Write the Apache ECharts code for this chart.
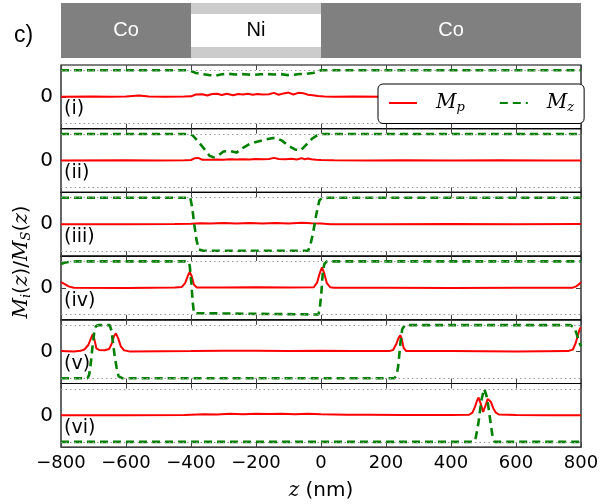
<!DOCTYPE html>
<html>
<head>
<meta charset="utf-8">
<script src="https://cdn.jsdelivr.net/npm/echarts@6/dist/echarts.min.js"></script>
<style>html,body{margin:0;padding:0;background:#fff}#chart{width:603px;height:504px}</style>
</head>
<body>
<div id="chart"></div>
<script>
// layer stack shown above the panels
var layerNames = ['Co', 'Ni', 'Co'];
var layerEdges = [-800, -400, 0, 800];
var panelLabels = ['(i)', '(ii)', '(iii)', '(iv)', '(v)', '(vi)'];
var guideLevels = [1, -1];

// M_p (red) and M_z (green) per panel, [z (nm), value]
var mp1 = [[-800,0],[-700,0.01],[-650,0.0],[-600,0.01],[-560,0.05],[-530,0.01],[-480,0.0],[-420,0.01],[-400,0.02],[-385,0.09],[-365,0.1],[-350,0.05],[-335,0.11],[-320,0.12],[-305,0.07],[-290,0.12],[-270,0.06],[-255,0.11],[-240,0.09],[-225,0.12],[-210,0.08],[-195,0.11],[-180,0.09],[-160,0.1],[-145,0.15],[-130,0.08],[-115,0.13],[-100,0.16],[-85,0.09],[-70,0.15],[-55,0.14],[-40,0.08],[-25,0.06],[-10,0.03],[10,0.01],[40,0.0],[100,0.01],[200,0.0],[300,0.01],[400,0.0],[500,0.01],[600,0.0],[700,0.01],[800,0]];
var mz1 = [[-800,1],[-410,1],[-400,0.97],[-385,0.9],[-365,0.86],[-345,0.82],[-325,0.8],[-305,0.85],[-285,0.87],[-265,0.84],[-245,0.86],[-225,0.84],[-205,0.83],[-185,0.85],[-165,0.86],[-145,0.84],[-125,0.86],[-105,0.82],[-85,0.83],[-65,0.86],[-45,0.87],[-25,0.9],[-10,0.95],[0,1],[800,1]];

var mp2 = [[-800,0],[-600,0.01],[-500,0],[-420,0.01],[-400,0.02],[-388,0.09],[-378,0.1],[-365,0.03],[-340,0.03],[-320,0.04],[-300,0.03],[-280,0.05],[-260,0.04],[-240,0.05],[-220,0.04],[-200,0.06],[-180,0.05],[-160,0.06],[-145,0.1],[-130,0.06],[-110,0.05],[-90,0.07],[-75,0.04],[-60,0.09],[-50,0.05],[-40,0.08],[-30,0.05],[-15,0.03],[0,0.02],[40,0.01],[150,0.0],[250,0.01],[400,0.0],[550,0.01],[700,0.0],[800,0]];
var mz2 = [[-800,1],[-405,1],[-395,0.95],[-380,0.75],[-360,0.45],[-343,0.18],[-330,0.12],[-315,0.2],[-300,0.34],[-280,0.36],[-260,0.3],[-240,0.48],[-220,0.62],[-200,0.7],[-180,0.76],[-160,0.82],[-140,0.86],[-120,0.75],[-100,0.56],[-80,0.42],[-63,0.38],[-45,0.6],[-28,0.82],[-12,0.95],[0,1],[800,1]];

var mp3 = [[-800,0],[-600,0.0],[-450,0.01],[-400,0.02],[-370,0.04],[-340,0.03],[-300,0.05],[-260,0.03],[-220,0.05],[-180,0.03],[-140,0.05],[-100,0.03],[-60,0.06],[-30,0.04],[0,0.03],[30,0.0],[200,0.0],[400,0.01],[600,0.0],[800,0.01]];
var mz3 = [[-800,1],[-402,1],[-396,0.6],[-390,0],[-383,-0.6],[-376,-0.95],[-362,-1],[-40,-1],[-33,-0.8],[-24,-0.3],[-14,0.4],[-5,0.9],[4,1],[800,1]];

var mp4 = [[-800,0.22],[-790,0.15],[-775,0.05],[-760,0.01],[-600,0.0],[-450,0.02],[-428,0.04],[-418,0.18],[-410,0.45],[-404,0.6],[-398,0.45],[-391,0.12],[-382,0.02],[-300,0.02],[-200,0.03],[-100,0.02],[-22,0.03],[-12,0.2],[-4,0.55],[3,0.78],[10,0.55],[18,0.18],[28,0.03],[40,0.01],[200,0.01],[400,0.0],[600,0.01],[775,0.01],[785,0.06],[793,0.13],[800,0.22]];
var mz4 = [[-800,0.9],[-790,0.95],[-770,0.99],[-750,1],[-410,1],[-404,0.85],[-399,0.2],[-395,-0.5],[-391,-0.95],[-385,-1],[-8,-1],[-4,-0.8],[1,-0.2],[5,0.5],[10,0.9],[18,1],[800,1]];

var mp5 = [[-800,0.02],[-760,0.01],[-740,0.03],[-728,0.08],[-716,0.25],[-708,0.5],[-702,0.66],[-697,0.45],[-691,0.12],[-682,0.06],[-665,0.05],[-652,0.1],[-644,0.3],[-637,0.58],[-631,0.69],[-624,0.5],[-616,0.2],[-606,0.05],[-590,0.01],[-400,0.02],[-300,0.03],[-200,0.03],[-100,0.02],[0,0.03],[100,0.02],[210,0.02],[222,0.06],[232,0.3],[238,0.5],[244,0.62],[249,0.45],[254,0.15],[262,0.02],[400,0.02],[600,0.01],[760,0.02],[775,0.08],[783,0.3],[790,0.6],[796,0.85],[800,0.92]];
var mz5 = [[-800,-1],[-718,-1],[-713,-0.85],[-708,-0.4],[-703,0.2],[-698,0.7],[-693,0.95],[-686,1],[-650,1],[-645,0.8],[-640,0.35],[-635,-0.15],[-629,-0.6],[-623,-0.92],[-612,-1],[226,-1],[232,-0.9],[237,-0.6],[241,-0.1],[245,0.4],[250,0.85],[258,1],[767,1],[778,0.92],[786,0.7],[793,0.4],[800,0.2]];

var mp6 = [[-800,0],[-600,0.0],[-420,0.01],[-400,0.02],[-360,0.04],[-320,0.03],[-280,0.06],[-240,0.04],[-200,0.06],[-160,0.05],[-120,0.06],[-80,0.04],[-40,0.06],[0,0.04],[40,0.03],[80,0.02],[150,0.02],[250,0.01],[400,0.01],[455,0.02],[466,0.1],[474,0.33],[480,0.55],[485,0.67],[491,0.45],[499,0.13],[507,0.4],[513,0.62],[517,0.67],[523,0.5],[530,0.27],[538,0.1],[548,0.03],[600,0.01],[700,0.0],[800,0]];
var mz6 = [[-800,-1],[470,-1],[476,-0.85],[484,-0.32],[494,0.6],[502,1],[509,0.75],[515,0.33],[522,-0.3],[528,-0.8],[534,-1],[800,-1]];

var mpAll = [mp1, mp2, mp3, mp4, mp5, mp6];
var mzAll = [mz1, mz2, mz3, mz4, mz5, mz6];

var plotLeft = 61, plotWidth = 520;
var panelTop = 65, panelHeight = 63.7;

var serif = 'DejaVu Serif';
var mathRich = {
    m: { fontFamily: serif, fontStyle: 'italic', fontSize: 20, color: '#000' },
    n: { fontFamily: 'DejaVu Sans', fontSize: 20, color: '#000' },
    s: { fontFamily: serif, fontStyle: 'italic', fontSize: 13, color: '#000', padding: [10, 0, 0, 0] }
};

function minusLabel(v) {
    return v < 0 ? '\u2212' + (-v) : String(v);
}

var chart = echarts.init(document.getElementById('chart'));

var grids = [{ left: plotLeft, width: plotWidth, top: 3, height: 55, show: false }];
var xAxes = [{ gridIndex: 0, type: 'value', min: -800, max: 800, show: false }];
var yAxes = [{ gridIndex: 0, type: 'value', min: 0, max: 1, show: false }];

// layer band (Ni shows a white core between light grey strips)
var bandAreas = [];
for (var i = 0; i < layerNames.length; i++) {
    var isNi = layerNames[i] == 'Ni';
    bandAreas.push([
        { xAxis: layerEdges[i], yAxis: 0, itemStyle: { color: isNi ? '#cccccc' : '#808080', opacity: 1 },
          label: { show: !isNi, position: 'inside', color: '#fff', fontSize: 20, fontFamily: 'Liberation Sans' }, name: layerNames[i] },
        { xAxis: layerEdges[i + 1], yAxis: 1 }
    ]);
    if (isNi) {
        bandAreas.push([
            { xAxis: layerEdges[i], yAxis: 0.2, itemStyle: { color: '#ffffff', opacity: 1 },
              label: { show: true, position: 'inside', color: '#000', fontSize: 20, fontFamily: 'Liberation Sans' }, name: layerNames[i] },
            { xAxis: layerEdges[i + 1], yAxis: 0.8 }
        ]);
    }
}

var series = [{
    type: 'line', xAxisIndex: 0, yAxisIndex: 0, data: [], silent: true,
    markArea: { silent: true, data: bandAreas, label: { formatter: '{b}' } }
}];

var graphics = [
    { type: 'text', left: 14, top: 24, style: { text: 'c)', fontSize: 23, fontFamily: 'Liberation Sans', fill: '#000' } },
    { type: 'text', x: 22, y: 262, rotation: Math.PI / 2,
      style: { text: '{m|M}{s|i}{n|(}{m|z}{n|)/}{m|M}{s|S}{n|(}{m|z}{n|)}', rich: mathRich, align: 'center', verticalAlign: 'middle' } }
];

for (var k = 0; k < 6; k++) {
    var last = k == 5;
    var panelY = panelTop + k * panelHeight;
    var axisIdx = 1 + 2 * k;
    grids.push({ left: plotLeft, width: plotWidth, top: panelY, height: panelHeight, show: true, borderColor: '#000', borderWidth: 1.2 });
    xAxes.push({
        gridIndex: k + 1, type: 'value', min: -800, max: 800, interval: 200, position: 'bottom',
        axisLine: { show: false, onZero: false }, splitLine: { show: false },
        axisTick: { show: true, inside: true, length: 5, lineStyle: { color: '#444' } },
        axisLabel: { show: last, fontSize: 18, fontFamily: 'DejaVu Sans', color: '#000', margin: 7, formatter: minusLabel },
        name: last ? '{m|z}{n| (nm)}' : '', nameLocation: 'middle', nameGap: 34,
        nameTextStyle: { rich: mathRich }
    });
    xAxes.push({
        gridIndex: k + 1, type: 'value', min: -800, max: 800, interval: 200, position: 'top',
        axisLine: { show: false, onZero: false }, splitLine: { show: false }, axisLabel: { show: false },
        axisTick: { show: true, inside: true, length: 5, lineStyle: { color: '#444' } }
    });
    yAxes.push({
        gridIndex: k + 1, type: 'value', min: -1.2, max: 1.2, position: 'left',
        axisLine: { show: false, onZero: false }, splitLine: { show: false },
        axisTick: { show: true, inside: true, length: 5, customValues: [0], lineStyle: { color: '#444' } },
        axisLabel: { show: true, customValues: [0], fontSize: 20, fontFamily: 'DejaVu Sans', color: '#000', margin: 8 }
    });
    yAxes.push({
        gridIndex: k + 1, type: 'value', min: -1.2, max: 1.2, position: 'right',
        axisLine: { show: false, onZero: false }, splitLine: { show: false }, axisLabel: { show: false },
        axisTick: { show: true, inside: true, length: 5, customValues: [0], lineStyle: { color: '#444' } }
    });

    series.push({
        name: 'Mp', type: 'line', xAxisIndex: axisIdx, yAxisIndex: axisIdx, data: mpAll[k],
        symbol: 'none', silent: true, z: 3, color: '#ff0000',
        lineStyle: { color: '#ff0000', width: 2 },
        markLine: {
            silent: true, symbol: 'none', label: { show: false },
            lineStyle: { type: [1.5, 3], color: '#999', width: 1 },
            data: guideLevels.map(function (v) { return { yAxis: v }; })
        }
    });
    series.push({
        name: 'Mz', type: 'line', xAxisIndex: axisIdx, yAxisIndex: axisIdx, data: mzAll[k],
        symbol: 'none', silent: true, z: 4, color: '#008000',
        lineStyle: { color: '#008000', width: 2.6, type: [8, 5] }
    });

    graphics.push({ type: 'text', left: 64, top: panelY + 35,
        style: { text: panelLabels[k], fontSize: 19, fontFamily: 'DejaVu Sans', fill: '#000' } });
}

var option = {
    animation: false,
    backgroundColor: '#fff',
    grid: grids,
    xAxis: xAxes,
    yAxis: yAxes,
    legend: {
        data: ['Mp', 'Mz'],
        left: 378, top: 84,
        itemWidth: 28, itemHeight: 14, itemGap: 34,
        padding: [9, 10, 9, 10],
        borderColor: '#000', borderWidth: 1, borderRadius: 5, backgroundColor: '#fff',
        z: 10,
        itemStyle: { opacity: 0 },
        formatter: function (name) {
            return '{m|M}{s|' + name.slice(1) + '}';
        },
        textStyle: { padding: [0, 0, 0, 14], rich: mathRich }
    },
    graphic: graphics,
    series: series
};

chart.setOption(option);
</script>
</body>
</html>
